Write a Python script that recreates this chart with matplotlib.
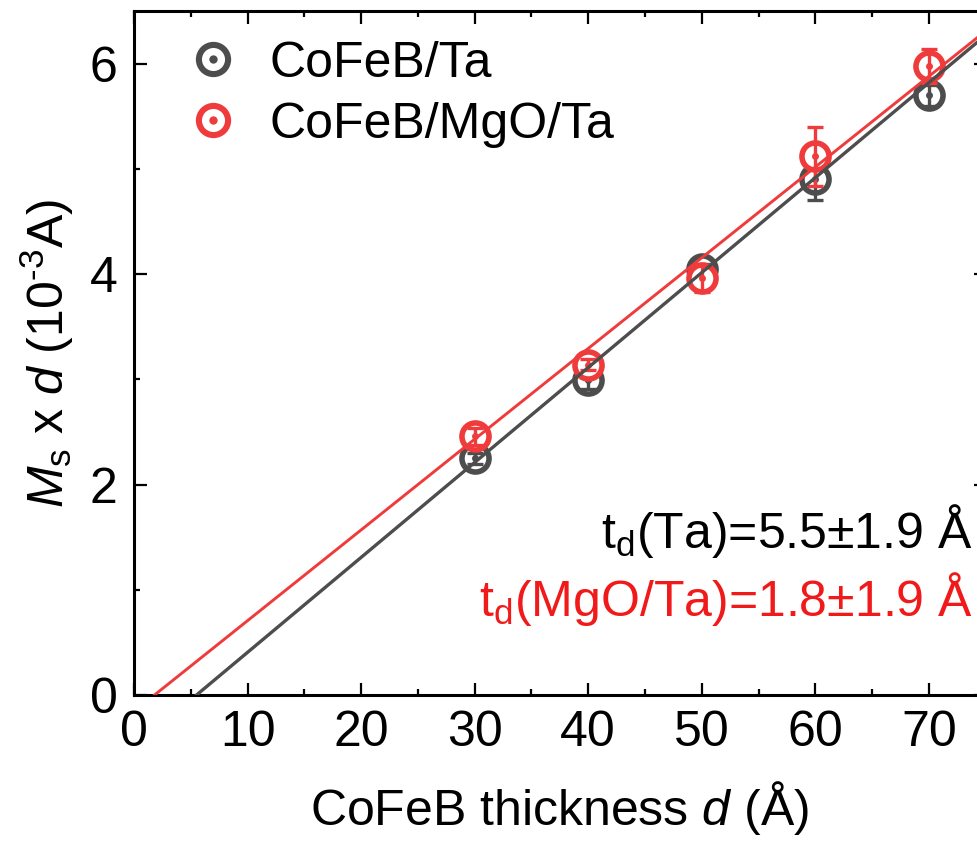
import numpy as np
import matplotlib
matplotlib.use("Agg")
import matplotlib.pyplot as plt
from matplotlib.ticker import MultipleLocator
from matplotlib.legend_handler import HandlerTuple

plt.rcParams['font.family'] = ['Liberation Sans', 'DejaVu Sans']
plt.rcParams['mathtext.fontset'] = 'custom'
plt.rcParams['mathtext.rm'] = 'Liberation Sans'
plt.rcParams['mathtext.it'] = 'Liberation Sans:italic'
plt.rcParams['mathtext.bf'] = 'Liberation Sans:bold'

# CoFeB thickness (Å)
thickness = [30, 40, 50, 60, 70]

# Ms x d (10^-3 A) with uncertainties
ms_d_ta = [2.25, 2.99, 4.05, 4.90, 5.70]
err_ta = [0.05, 0.08, 0.05, 0.20, 0.10]
ms_d_mgo = [2.46, 3.14, 3.96, 5.12, 5.98]
err_mgo = [0.08, 0.05, 0.13, 0.28, 0.16]

# Linear fits: y = slope * (d - t_d)
td_ta, td_ta_err = 5.5, 1.9
td_mgo, td_mgo_err = 1.8, 1.9
slope_ta = 0.0902
slope_mgo = 0.0862

labels = ['CoFeB/Ta', 'CoFeB/MgO/Ta']
c_ta = '#4d4d4d'
c_mgo = '#ef3b3b'
c_text_red = '#f01a1a'

fig = plt.figure(figsize=(9.77, 8.44), dpi=100)
ax = fig.add_axes([0.1372, 0.1765, 0.8716, 0.8105])

fs = 36
ms = 19.5
mew = 4.0
dot_ms = 5

series = [
    (ms_d_ta, err_ta, c_ta, 3),
    (ms_d_mgo, err_mgo, c_mgo, 4),
]
for vals, errs, col, z in series:
    ax.plot(thickness, vals, 'o', ms=ms, mfc='white', mec=col, mew=mew, zorder=z)
    ax.errorbar(thickness, vals, yerr=errs, fmt='none', ecolor=col,
                elinewidth=2.4, capsize=5.5, capthick=2.4, zorder=z + 0.1)
    ax.plot(thickness, vals, 'o', ms=dot_ms, color=col, mew=0, zorder=z + 0.2)

# legend entries: ring with a center dot
rings = [ax.plot([], [], 'o', ms=ms + 1.5, mfc='white', mec=c, mew=mew + 0.4)[0]
         for c in [c_ta, c_mgo]]
dots = [ax.plot([], [], 'o', ms=dot_ms + 1, color=c, mew=0)[0]
        for c in [c_ta, c_mgo]]
ax.legend([(rings[0], dots[0]), (rings[1], dots[1])], labels,
          handler_map={tuple: HandlerTuple(ndivide=1, pad=0)},
          loc='upper left', bbox_to_anchor=(0.028, 1.0), frameon=False,
          fontsize=fs, handlelength=1.0, handletextpad=0.64,
          labelspacing=0.3, borderaxespad=0.2)

# fit lines
x_end = 80
for td, sl, col, lw in [(td_ta, slope_ta, c_ta, 2.4), (td_mgo, slope_mgo, c_mgo, 2.1)]:
    xs = np.array([td, x_end])
    ax.plot(xs, sl * (xs - td), '-', color=col, lw=lw, zorder=6)

ax.set_xlim(0, 75)
ax.set_ylim(0, 6.5)
ax.xaxis.set_major_locator(MultipleLocator(10))
ax.xaxis.set_minor_locator(MultipleLocator(5))
ax.yaxis.set_major_locator(MultipleLocator(2))
ax.yaxis.set_minor_locator(MultipleLocator(1))
ax.tick_params(which='both', direction='in', top=True, right=True,
               labelsize=fs, width=1.6)
ax.tick_params(which='major', length=9, pad=11)
ax.tick_params(which='minor', length=4.5)
ax.tick_params(axis='y', which='major', pad=12)
for sp in ax.spines.values():
    sp.set_linewidth(2.2)

ax.set_xlabel(r'CoFeB thickness $\mathit{d}$ (Å)', fontsize=fs, labelpad=16)
ax.set_ylabel('$\\mathit{M}_\\mathrm{s}$ x $\\mathit{d}$ (10$^{\u2010\\mathrm{3}}$A)',
              fontsize=fs, labelpad=10)

ax.text(0.985, 0.24, r't$_\mathrm{d}$(Ta)=%.1f±%.1f Å' % (td_ta, td_ta_err),
        transform=ax.transAxes, ha='right', va='center', fontsize=fs,
        color='black')
ax.text(0.985, 0.14, r't$_\mathrm{d}$(MgO/Ta)=%.1f±%.1f Å' % (td_mgo, td_mgo_err),
        transform=ax.transAxes, ha='right', va='center', fontsize=fs,
        color=c_text_red)

fig.savefig('out.png', dpi=100)
